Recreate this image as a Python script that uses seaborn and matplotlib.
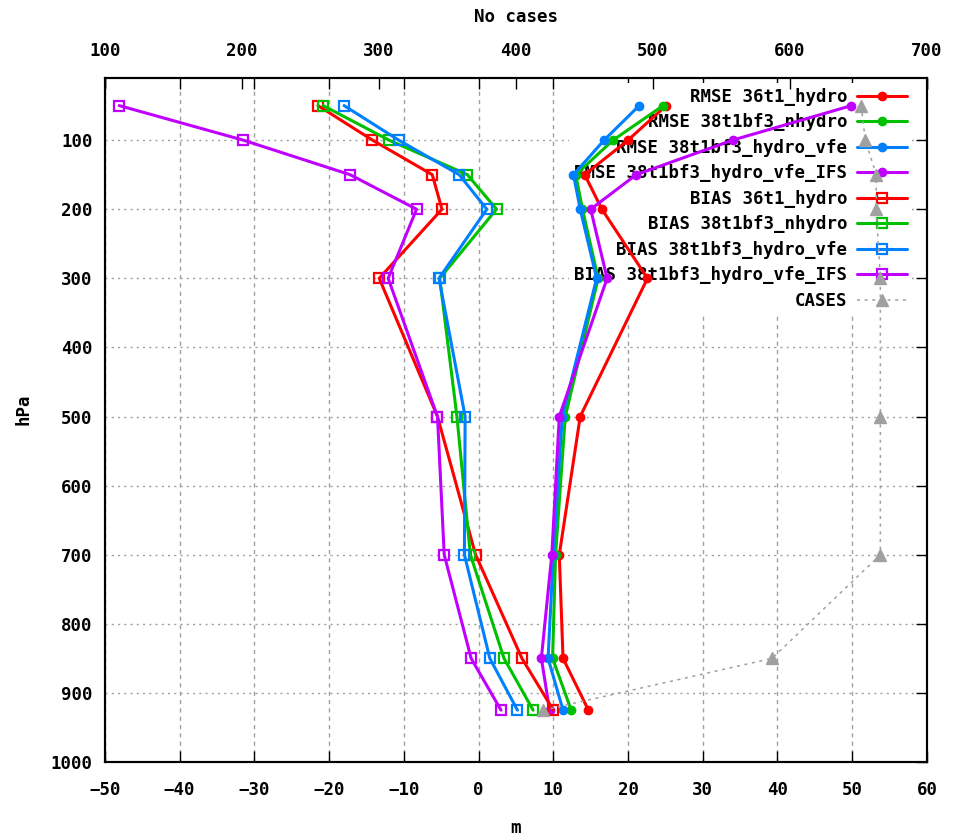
import seaborn as sns
import matplotlib.pyplot as plt

# pressure levels (hPa)
levels = [50, 100, 150, 200, 300, 500, 700, 850, 925]

# RMSE (m)
rmse_36t1_hydro = [25.1, 20.0, 14.2, 16.5, 22.6, 13.6, 10.8, 11.3, 14.7]
rmse_38t1bf3_nhydro = [24.7, 18.0, 13.0, 13.9, 16.0, 11.6, 10.3, 9.9, 12.4]
rmse_38t1bf3_hydro_vfe = [21.5, 16.8, 12.7, 13.6, 15.8, 11.2, 10.0, 9.3, 11.3]
rmse_38t1bf3_hydro_vfe_ifs = [49.9, 34.0, 21.1, 15.0, 17.2, 10.8, 9.8, 8.4, 9.5]

# BIAS (m)
bias_36t1_hydro = [-21.5, -14.2, -6.2, -4.9, -13.3, -5.5, -0.4, 5.8, 10.0]
bias_38t1bf3_nhydro = [-20.8, -12.0, -1.5, 2.4, -5.2, -2.9, -1.1, 3.4, 7.3]
bias_38t1bf3_hydro_vfe = [-18.0, -10.7, -2.6, 1.1, -5.3, -1.8, -1.9, 1.5, 5.2]
bias_38t1bf3_hydro_vfe_ifs = [-48.1, -31.5, -17.2, -8.3, -12.1, -5.5, -4.6, -1.0, 3.0]

# number of cases
cases = [652, 655, 663, 663, 666, 666, 666, 587, 420]

exp_names = ["36t1_hydro", "38t1bf3_nhydro", "38t1bf3_hydro_vfe", "38t1bf3_hydro_vfe_IFS"]
exp_colors = ["#ff0000", "#00c000", "#0080ff", "#c000ff"]

sns.set_style("white")
plt.rcParams["font.family"] = ["DejaVu Sans Mono"]
plt.rcParams["font.weight"] = "bold"
plt.rcParams["text.color"] = "black"
plt.rcParams["axes.labelcolor"] = "black"
plt.rcParams["xtick.color"] = "black"
plt.rcParams["ytick.color"] = "black"
fs = 12.5

fig = plt.figure(figsize=(9.56, 8.39), dpi=100)
ax = fig.add_axes([0.1098, 0.0918, 0.8598, 0.8153])
ax2 = ax.twiny()

rmse = [rmse_36t1_hydro, rmse_38t1bf3_nhydro, rmse_38t1bf3_hydro_vfe, rmse_38t1bf3_hydro_vfe_ifs]
bias = [bias_36t1_hydro, bias_38t1bf3_nhydro, bias_38t1bf3_hydro_vfe, bias_38t1bf3_hydro_vfe_ifs]

for name, col, vals in zip(exp_names, exp_colors, rmse):
    sns.lineplot(x=vals, y=levels, sort=False, estimator=None, ax=ax, color=col,
                 lw=2.2, marker="o", ms=6, mec=col, mew=1, legend=False,
                 label="RMSE " + name)
for name, col, vals in zip(exp_names, exp_colors, bias):
    sns.lineplot(x=vals, y=levels, sort=False, estimator=None, ax=ax, color=col,
                 lw=2.2, marker="s", ms=7, mec=col, mfc="none", mew=1.6,
                 legend=False, label="BIAS " + name)

sns.lineplot(x=cases, y=levels, sort=False, estimator=None, ax=ax2, color="#a0a0a0",
             lw=1.1, linestyle=(0, (2, 3)), marker="^", ms=9, mec="#a0a0a0",
             mfc="#a0a0a0", mew=1, legend=False, label="CASES")

ax.set_xlim(-50, 60)
ax.set_ylim(1000, 10)
ax2.set_xlim(100, 700)
ax.set_xticks(range(-50, 61, 10))
ax.set_yticks(range(100, 1001, 100))
ax2.set_xticks(range(100, 701, 100))

ax.xaxis.grid(True, color="#a0a0a0", linestyle=(0, (3, 3)), linewidth=1)
ax.yaxis.grid(True, color="#a0a0a0", linestyle=(0, (1.5, 3)), linewidth=1)
ax.set_axisbelow(True)
ax2.grid(False)

for a in (ax, ax2):
    for s in a.spines.values():
        s.set_linewidth(1.5)
        s.set_color("black")

ax.tick_params(axis="both", direction="in", length=8, width=1, top=True, right=True,
               labelsize=fs)
ax.tick_params(axis="x", pad=14)
ax.tick_params(axis="y", pad=9)
ax2.tick_params(axis="x", direction="in", length=8, width=1, pad=13, labelsize=fs,
                top=True, bottom=False)

ax.set_xlabel("m", fontsize=fs, fontweight="bold")
ax.xaxis.set_label_coords(0.5, -0.083)
ax.set_ylabel("hPa", fontsize=fs, fontweight="bold")
ax.yaxis.set_label_coords(-0.0876, 0.516)
ax2.set_xlabel("No cases", fontsize=fs, fontweight="bold")
ax2.xaxis.set_label_coords(0.5, 1.082)

h1, l1 = ax.get_legend_handles_labels()
h2, l2 = ax2.get_legend_handles_labels()
leg = ax.legend(h1 + h2, l1 + l2, loc="upper right", bbox_to_anchor=(0.9821, 0.993),
                markerfirst=False, frameon=True, facecolor="white", edgecolor="none",
                framealpha=1, fancybox=False, handlelength=2.9, handletextpad=0.55,
                labelspacing=0.43, borderpad=0.3, borderaxespad=0,
                prop=dict(family="DejaVu Sans Mono", weight="bold", size=fs))
leg.set_zorder(1)

fig.savefig("out.png", dpi=100)
